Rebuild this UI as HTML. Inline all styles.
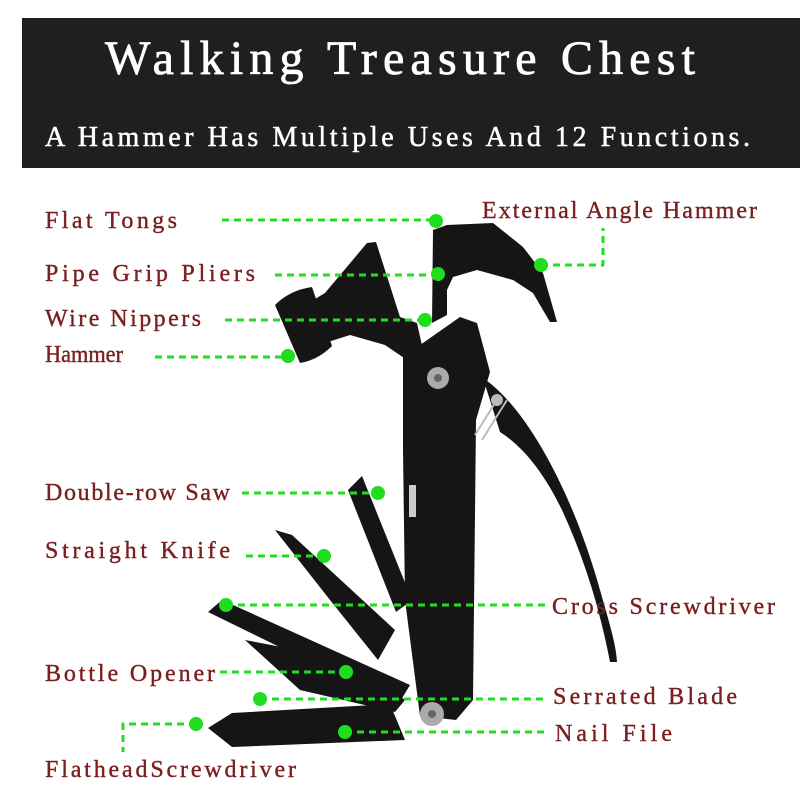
<!DOCTYPE html>
<html><head><meta charset="utf-8"><style>
html,body{margin:0;padding:0;background:#fff;width:800px;height:809px;overflow:hidden}
svg{display:block}
.l{font-family:"Liberation Serif",serif;font-size:24px;fill:#7a1f1f;stroke:#7a1f1f;stroke-width:0.4}
.g{stroke:#22dd22;stroke-width:3;stroke-dasharray:7 5;fill:none}
.d{fill:#1fdd1f}
</style></head><body>
<svg width="800" height="809" viewBox="0 0 800 809" xmlns="http://www.w3.org/2000/svg">
<rect x="22" y="18" width="778" height="150" fill="#1f1f1f"/>
<text x="105" y="74" textLength="590" lengthAdjust="spacing" font-family="Liberation Serif,serif" font-size="48" fill="#fff" stroke="#fff" stroke-width="0.8">Walking Treasure Chest</text>
<text x="45" y="146" textLength="705" lengthAdjust="spacing" font-family="Liberation Serif,serif" font-size="28" fill="#fff" stroke="#fff" stroke-width="0.5">A Hammer Has Multiple Uses And 12 Functions.</text>

<!-- tool -->
<g fill="#151515">
<path d="M483,378 C530,410 575,500 600,590 C610,625 616,645 617,662 L610,662 C600,610 585,560 562,510 C545,475 525,448 500,432 Z"/>
<path d="M275,305 Q290,290 312,287 L332,346 Q318,360 300,363 Z"/>
<polygon points="310,302 325,293 367,243 376,242 400,317 417,323 423,350 410,362 385,345 350,335 328,342"/>
<polygon points="432,323 433,230 447,225 493,223 523,247 543,273 557,322 550,322 533,293 513,280 477,270 453,277 447,290 447,315"/>
<polygon points="403,357 460,317 477,323 490,372 476,420 473,700 456,720 420,716 405,600 403,450"/>
<polygon points="348,490 362,476 412,600 396,612"/>
<polygon points="275,530 292,535 395,630 378,660 330,600"/>
<polygon points="208,612 222,600 410,685 398,705"/>
<polygon points="245,640 350,660 405,700 395,712 300,690"/>
<polygon points="208,728 232,713 390,704 405,740 232,747"/>
</g>
<rect x="409" y="485" width="7" height="32" fill="#ccc"/>
<circle cx="438" cy="378" r="11" fill="#aaa"/><circle cx="438" cy="378" r="4" fill="#666"/>
<circle cx="432" cy="714" r="12" fill="#aaa"/><circle cx="432" cy="714" r="4" fill="#666"/>
<path d="M475,435 L500,395 M482,440 L507,400" stroke="#bbb" stroke-width="2"/>
<circle cx="497" cy="400" r="6" fill="#bbb"/>

<!-- connectors -->
<path class="g" d="M222,220 H436"/><circle class="d" cx="436" cy="221" r="7"/>
<path class="g" d="M275,275 H438"/><circle class="d" cx="438" cy="274" r="7"/>
<path class="g" d="M225,320 H425"/><circle class="d" cx="425" cy="320" r="7"/>
<path class="g" d="M155,357 H288"/><circle class="d" cx="288" cy="356" r="7"/>
<path class="g" d="M541,265 H603 V228"/><circle class="d" cx="541" cy="265" r="7"/>
<path class="g" d="M242,493 H378"/><circle class="d" cx="378" cy="493" r="7"/>
<path class="g" d="M246,556 H324"/><circle class="d" cx="324" cy="556" r="7"/>
<path class="g" d="M226,605 H545"/><circle class="d" cx="226" cy="605" r="7"/>
<path class="g" d="M220,672 H346"/><circle class="d" cx="346" cy="672" r="7"/>
<path class="g" d="M260,699 H545"/><circle class="d" cx="260" cy="699" r="7"/>
<path class="g" d="M345,732 H545"/><circle class="d" cx="345" cy="732" r="7"/>
<path class="g" d="M196,724 H123 V752"/><circle class="d" cx="196" cy="724" r="7"/>

<!-- labels -->
<text class="l" x="45" y="228" textLength="132" lengthAdjust="spacing">Flat Tongs</text>
<text class="l" x="45" y="281" textLength="210" lengthAdjust="spacing">Pipe Grip Pliers</text>
<text class="l" x="45" y="326" textLength="156" lengthAdjust="spacing">Wire Nippers</text>
<text class="l" x="45" y="362" textLength="78" lengthAdjust="spacingAndGlyphs">Hammer</text>
<text class="l" x="482" y="218" textLength="275" lengthAdjust="spacing">External Angle Hammer</text>
<text class="l" x="45" y="500" textLength="185" lengthAdjust="spacing">Double-row Saw</text>
<text class="l" x="45" y="558" textLength="185" lengthAdjust="spacing">Straight Knife</text>
<text class="l" x="552" y="614" textLength="223" lengthAdjust="spacing">Cross Screwdriver</text>
<text class="l" x="45" y="681" textLength="170" lengthAdjust="spacing">Bottle Opener</text>
<text class="l" x="553" y="704" textLength="184" lengthAdjust="spacing">Serrated Blade</text>
<text class="l" x="555" y="741" textLength="117" lengthAdjust="spacing">Nail File</text>
<text class="l" x="45" y="777" textLength="251" lengthAdjust="spacing">FlatheadScrewdriver</text>
</svg>
</body></html>
